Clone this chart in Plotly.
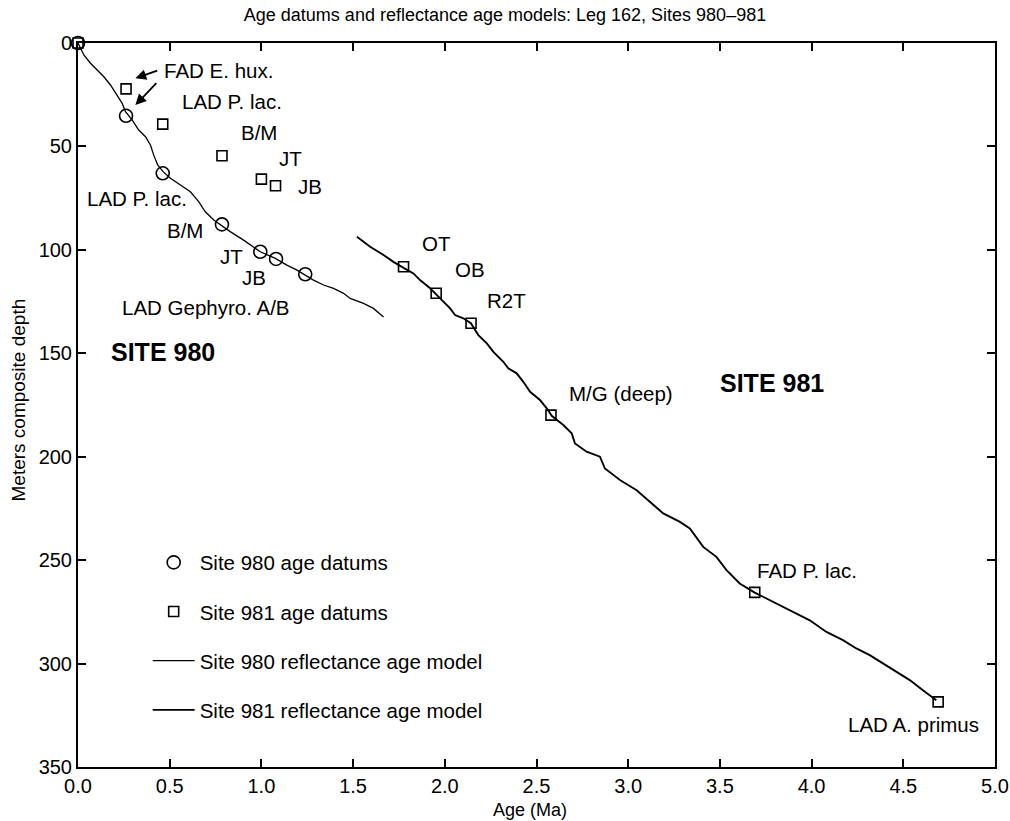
import plotly.graph_objects as go

# ---------------- data ----------------
site980_datum_age = [0.0, 0.262, 0.462, 0.785, 0.994, 1.08, 1.239]
site980_datum_depth = [0.0, 35.2, 63.0, 87.7, 100.9, 104.4, 111.8]

site981_datum_age = [0.0, 0.262, 0.462, 0.785, 1.0, 1.077, 1.775, 1.953, 2.143, 2.579, 3.69, 4.69]
site981_datum_depth = [0.0, 22.2, 39.2, 54.5, 65.8, 69.0, 108.2, 121.0, 135.5, 179.9, 265.6, 318.5]

site980_model_age = [0.0, 0.032, 0.068, 0.105, 0.141, 0.177, 0.214, 0.241, 0.259, 0.295, 0.331,
                     0.368, 0.395, 0.413, 0.435, 0.464, 0.504, 0.558, 0.613, 0.658, 0.694, 0.740,
                     0.776, 0.830, 0.903, 0.967, 0.994, 1.076, 1.139, 1.194, 1.239, 1.284, 1.339,
                     1.393, 1.448, 1.484, 1.557, 1.611, 1.666]
site980_model_depth = [0.0, 5.8, 9.8, 13.1, 16.3, 20.3, 25.1, 29.2, 33.2, 37.2, 42.1,
                       45.3, 49.3, 54.2, 59.0, 62.2, 65.4, 68.7, 71.9, 76.7, 81.6, 85.6,
                       88.0, 91.2, 95.3, 99.3, 100.9, 104.1, 107.4, 109.8, 112.2, 114.6, 117.0,
                       118.6, 121.0, 123.5, 125.9, 128.3, 132.4]

site981_model_age = [1.521, 1.593, 1.666, 1.720, 1.775, 1.829, 1.865, 1.920, 1.953, 1.992, 2.029,
                     2.056, 2.101, 2.142, 2.183, 2.229, 2.265, 2.319, 2.346, 2.392, 2.428, 2.465,
                     2.519, 2.556, 2.583, 2.646, 2.692, 2.710, 2.773, 2.846, 2.873, 2.955, 3.046,
                     3.118, 3.191, 3.282, 3.336, 3.409, 3.481, 3.536, 3.608, 3.690, 3.790, 3.917,
                     3.990, 4.081, 4.171, 4.244, 4.317, 4.389, 4.462, 4.535, 4.607, 4.680]
site981_model_depth = [93.7, 98.5, 102.5, 105.8, 108.7, 111.4, 114.6, 118.6, 121.5, 125.1, 128.3,
                       131.5, 133.1, 135.5, 141.2, 145.2, 149.3, 154.1, 157.3, 159.7, 163.8, 168.6,
                       172.6, 176.6, 180.2, 184.7, 188.7, 193.6, 197.6, 200.0, 205.7, 211.3, 216.2,
                       221.8, 227.4, 231.5, 234.7, 243.6, 248.4, 254.8, 261.3, 265.7, 270.2, 275.8,
                       279.1, 284.7, 288.7, 292.7, 295.9, 299.9, 304.0, 308.0, 312.9, 317.7]

x_ticks = [0.0, 0.5, 1.0, 1.5, 2.0, 2.5, 3.0, 3.5, 4.0, 4.5, 5.0]
y_ticks = [0, 50, 100, 150, 200, 250, 300, 350]

# labels: (text, age, depth)
label_text = ["FAD E. hux.", "LAD P. lac.", "B/M", "JT", "JB",
              "LAD P. lac.", "B/M", "JT", "JB", "LAD Gephyro. A/B",
              "OT", "OB", "R2T", "M/G (deep)", "FAD P. lac.", "LAD A. primus"]
label_age = [0.765, 0.841, 0.988, 1.157, 1.266,
             0.324, 0.586, 0.836, 0.961, 0.700,
             1.953, 2.138, 2.339, 2.960, 3.973, 4.556]
label_depth = [13.1, 28.5, 43.5, 55.6, 69.6,
               75.4, 90.4, 103.0, 113.6, 127.7,
               96.7, 109.3, 124.3, 169.2, 254.8, 329.3]

site_text = ["SITE 980", "SITE 981"]
site_age = [0.461, 3.782]
site_depth = [149.4, 164.4]

FONT = "Liberation Sans, Arial, Helvetica, sans-serif"

fig = go.Figure()

fig.add_trace(go.Scatter(x=site980_datum_age, y=site980_datum_depth, mode="markers",
                         name="Site 980 age datums", legendgroup="a", cliponaxis=False,
                         marker=dict(symbol="circle-open", size=13, color="black",
                                     line=dict(width=1.6, color="black"))))
fig.add_trace(go.Scatter(x=site981_datum_age, y=site981_datum_depth, mode="markers",
                         name="Site 981 age datums", legendgroup="b", cliponaxis=False,
                         marker=dict(symbol="square-open", size=10, color="black",
                                     line=dict(width=1.6, color="black"))))
fig.add_trace(go.Scatter(x=site980_model_age, y=site980_model_depth, mode="lines",
                         name="Site 980 reflectance age model", legendgroup="c",
                         line=dict(color="black", width=1.3)))
fig.add_trace(go.Scatter(x=site981_model_age, y=site981_model_depth, mode="lines",
                         name="Site 981 reflectance age model", legendgroup="d",
                         line=dict(color="black", width=1.9)))

annotations = []
for t, a, d in zip(label_text, label_age, label_depth):
    annotations.append(dict(x=a, y=d, xref="x", yref="y", text=t, showarrow=False,
                            font=dict(family=FONT, size=20.5, color="black")))
for t, a, d in zip(site_text, site_age, site_depth):
    annotations.append(dict(x=a, y=d, xref="x", yref="y", text="<b>" + t + "</b>",
                            showarrow=False, font=dict(family=FONT, size=25, color="black")))

# arrows from FAD E. hux. label
annotations.append(dict(x=0.313, y=17.1, ax=0.44, ay=13.1, xref="x", yref="y",
                        axref="x", ayref="y", text="", showarrow=True, arrowhead=2,
                        arrowsize=1.2, arrowwidth=1.8, arrowcolor="black"))
annotations.append(dict(x=0.313, y=30.0, ax=0.435, ay=18.7, xref="x", yref="y",
                        axref="x", ayref="y", text="", showarrow=True, arrowhead=2,
                        arrowsize=1.2, arrowwidth=1.8, arrowcolor="black"))

# axis titles
annotations.append(dict(x=0.493, y=-0.0594, xref="paper", yref="paper", text="Age (Ma)",
                        showarrow=False, xanchor="center", yanchor="middle",
                        font=dict(family=FONT, size=18, color="black")))
annotations.append(dict(x=-0.0648, y=0.507, xref="paper", yref="paper",
                        text="Meters composite depth", textangle=-90,
                        showarrow=False, xanchor="center", yanchor="middle",
                        font=dict(family=FONT, size=19, color="black")))

axis_common = dict(showgrid=False, zeroline=False, showline=True, linecolor="black",
                   linewidth=2, mirror="ticks", ticks="inside", ticklen=8, tickwidth=2,
                   tickcolor="black", automargin=False,
                   tickfont=dict(family=FONT, size=20, color="black"))

fig.update_layout(
    width=1010, height=821,
    margin=dict(l=78, r=15, t=43, b=54, autoexpand=False),
    paper_bgcolor="white", plot_bgcolor="white",
    title=dict(text="Age datums and reflectance age models: Leg 162, Sites 980\u2013981",
               x=0.5, xref="container", y=1 - 15 / 821, yref="container", yanchor="middle",
               font=dict(family=FONT, size=18, color="black")),
    xaxis=dict(range=[0, 5], tickvals=x_ticks, ticktext=[f"{v:.1f}" for v in x_ticks],
               **axis_common),
    yaxis=dict(range=[350, 0], tickvals=y_ticks, **axis_common),
    annotations=annotations,
    showlegend=True,
    legend=dict(x=0.076, y=0.31, xanchor="left", yanchor="top", bgcolor="rgba(0,0,0,0)",
                borderwidth=0, tracegroupgap=19.5, itemwidth=42,
                font=dict(family=FONT, size=20.5, color="black")),
)

fig.write_html("out.html", config={"displayModeBar": False})

# remove the default page margin so the figure sits at the window's top-left corner
with open("out.html", "r", encoding="utf-8") as f:
    html = f.read()
html = html.replace("<head>", "<head><style>html,body{margin:0;padding:0;overflow:hidden;}</style>", 1)
with open("out.html", "w", encoding="utf-8") as f:
    f.write(html)
